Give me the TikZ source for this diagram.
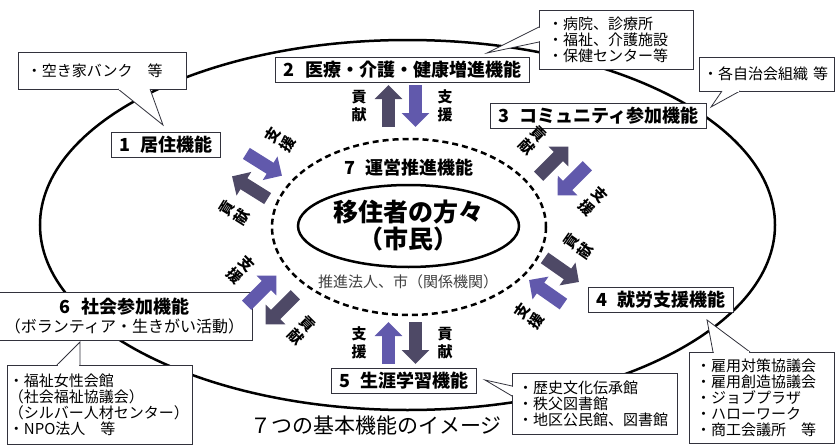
\documentclass[tikz,border=0pt]{standalone}
\usepackage{fontspec}
\setmainfont{Noto Sans CJK JP}
\usetikzlibrary{arrows.meta,shapes.geometric}

\definecolor{koken}{RGB}{78,73,102}
\definecolor{shien}{RGB}{97,89,172}
\definecolor{waku}{RGB}{50,50,60}
\newcommand\kuhaku{\hspace{.6em}}

\tikzset{
  kino/.style={draw=waku, line width=0.9pt, fill=white, minimum height=25pt,
    inner xsep=8pt, inner ysep=2pt, font=\fontsize{18}{20}\selectfont\bfseries},
  fuki/.style={draw=waku, line width=0.8pt, fill=white, outer sep=0pt, align=left,
    inner sep=0pt, font=\fontsize{15}{16}\selectfont},
  shippo/.style={draw=waku, line width=0.8pt, fill=white},
  yajirushi/.style={line width=13pt, -{Triangle[length=14pt,width=27pt]}},
  moji/.style={align=center, inner sep=0pt, font=\fontsize{15}{17.5}\selectfont\bfseries},
  pics/kiyo/.style n args={4}{code={
    \draw[yajirushi, #1] (-13.5,21) -- (-13.5,-21);
    \draw[yajirushi, #3] (13.5,-21) -- (13.5,21);
    \node[moji, transform shape] at (-43,0) {#2};
    \node[moji, transform shape] at (43,0) {#4};
  }},
}

\begin{document}
\begin{tikzpicture}[x=1pt, y=-1pt]
  \useasboundingbox (0,0) rectangle (836,447);

  \draw[line width=2.5pt] (407.5,225) ellipse [x radius=367.5, y radius=185];
  \draw[line width=2.5pt, dash pattern=on 6pt off 4pt] (409,227) ellipse [x radius=137, y radius=88];
  \node[draw, ellipse, line width=2.5pt, minimum width=221pt, minimum height=82pt, inner sep=0pt,
    align=center, font=\fontsize{25}{27}\selectfont\bfseries] (shimin) at (408.5,226) {移住者の方々\\（市民）};
  \node[font=\fontsize{18}{20}\selectfont\bfseries] (unei) at (409,168) {7\kuhaku 運営推進機能};
  \node[font=\fontsize{15}{16}\selectfont, text=black!75] (kikan) at (408,282) {推進法人、市（関係機関）};

  \node[kino] (kino1) at (166,144.5) {1\kuhaku 居住機能};
  \node[kino] (kino2) at (402.5,70) {2\kuhaku 医療・介護・健康増進機能};
  \node[kino] (kino3) at (598.5,116) {3\kuhaku コミュニティ参加機能};
  \node[kino] (kino4) at (661,300) {4\kuhaku 就労支援機能};
  \node[kino] (kino5) at (404,380.5) {5\kuhaku 生涯学習機能};
  \node[kino, minimum width=233pt, minimum height=48pt, align=center] (kino6) at (124.5,316)
    {6\kuhaku 社会参加機能\\[-1pt]{\mdseries\fontsize{16}{18}\selectfont （ボランティア・生きがい活動）}};

  \pic at (402,106) {kiyo={koken}{貢\\献}{shien}{支\\援}};
  \pic[rotate=58] at (257,176) {kiyo={koken}{貢\\献}{shien}{支\\援}};
  \pic[rotate=-45] at (563,171) {kiyo={koken}{貢\\献}{shien}{支\\援}};
  \pic at (402,343) {kiyo={shien}{支\\援}{koken}{貢\\献}};
  \pic[rotate=-45] at (271,300) {kiyo={shien}{支\\援}{koken}{貢\\献}};
  \pic[rotate=55] at (554,281) {kiyo={shien}{支\\援}{koken}{貢\\献}};

  \node[fuki, minimum width=168pt, minimum height=37pt, text width=150pt] (fuki1) at (102,70.5)
    {・空き家バンク　等};
  \node[fuki, minimum width=154pt, minimum height=59pt, text width=136pt] (fuki2) at (616,39.5)
    {・病院、診療所\\・福祉、介護施設\\・保健センター等};
  \node[fuki, minimum width=135pt, minimum height=34pt, text width=127pt] (fuki3) at (766.5,74)
    {・各自治会組織 等};
  \node[fuki, minimum width=145pt, minimum height=91pt, text width=131pt] (fuki4) at (761.5,397.5)
    {・雇用対策協議会\\・雇用創造協議会\\・ジョブプラザ\\・ハローワーク\\・商工会議所　等};
  \node[fuki, minimum width=165pt, minimum height=61pt, text width=153pt] (fuki5) at (594.5,403.5)
    {・歴史文化伝承館\\・秩父図書館\\・地区公民館、図書館};
  \node[fuki, minimum width=185pt, minimum height=79pt, text width=181pt] (fuki6) at (99.5,404.5)
    {・福祉女性会館\\（社会福祉協議会）\\（シルバー人材センター）\\・NPO法人　等};

  \coordinate (saki1) at (163,125);
  \coordinate (saki2) at (487,53);
  \coordinate (saki3) at (711,107);
  \coordinate (saki4) at (707,320);
  \coordinate (saki5) at (485,380);
  \coordinate (saki6) at (80,342);

  \filldraw[shippo] ([xshift=16pt]fuki1.south) -- (saki1) -- ([xshift=48pt]fuki1.south);
  \draw[white, line width=1.5pt] ([xshift=16.7pt]fuki1.south) -- ([xshift=47.3pt]fuki1.south);
  \filldraw[shippo] ([yshift=12.5pt]fuki2.west) -- (saki2) -- ([yshift=-2.5pt]fuki2.west);
  \draw[white, line width=1.5pt] ([yshift=11.8pt]fuki2.west) -- ([yshift=-1.8pt]fuki2.west);
  \filldraw[shippo] ([xshift=-44.5pt]fuki3.south) -- (saki3) -- ([xshift=-26.5pt]fuki3.south);
  \draw[white, line width=1.5pt] ([xshift=-43.8pt]fuki3.south) -- ([xshift=-27.2pt]fuki3.south);
  \filldraw[shippo] ([xshift=-48.5pt]fuki4.north) -- (saki4) -- ([xshift=-11.5pt]fuki4.north);
  \draw[white, line width=1.5pt] ([xshift=-47.8pt]fuki4.north) -- ([xshift=-12.2pt]fuki4.north);
  \filldraw[shippo] ([yshift=17.5pt]fuki5.west) -- (saki5) -- ([yshift=7.5pt]fuki5.west);
  \draw[white, line width=1.5pt] ([yshift=16.8pt]fuki5.west) -- ([yshift=8.2pt]fuki5.west);
  \filldraw[shippo] ([xshift=-42.5pt]fuki6.north) -- (saki6) -- ([xshift=-19.5pt]fuki6.north);
  \draw[white, line width=1.5pt] ([xshift=-41.8pt]fuki6.north) -- ([xshift=-20.2pt]fuki6.north);

  \node[font=\fontsize{21}{23}\selectfont] (title) at (376,426) {７つの基本機能のイメージ};
\end{tikzpicture}
\end{document}
